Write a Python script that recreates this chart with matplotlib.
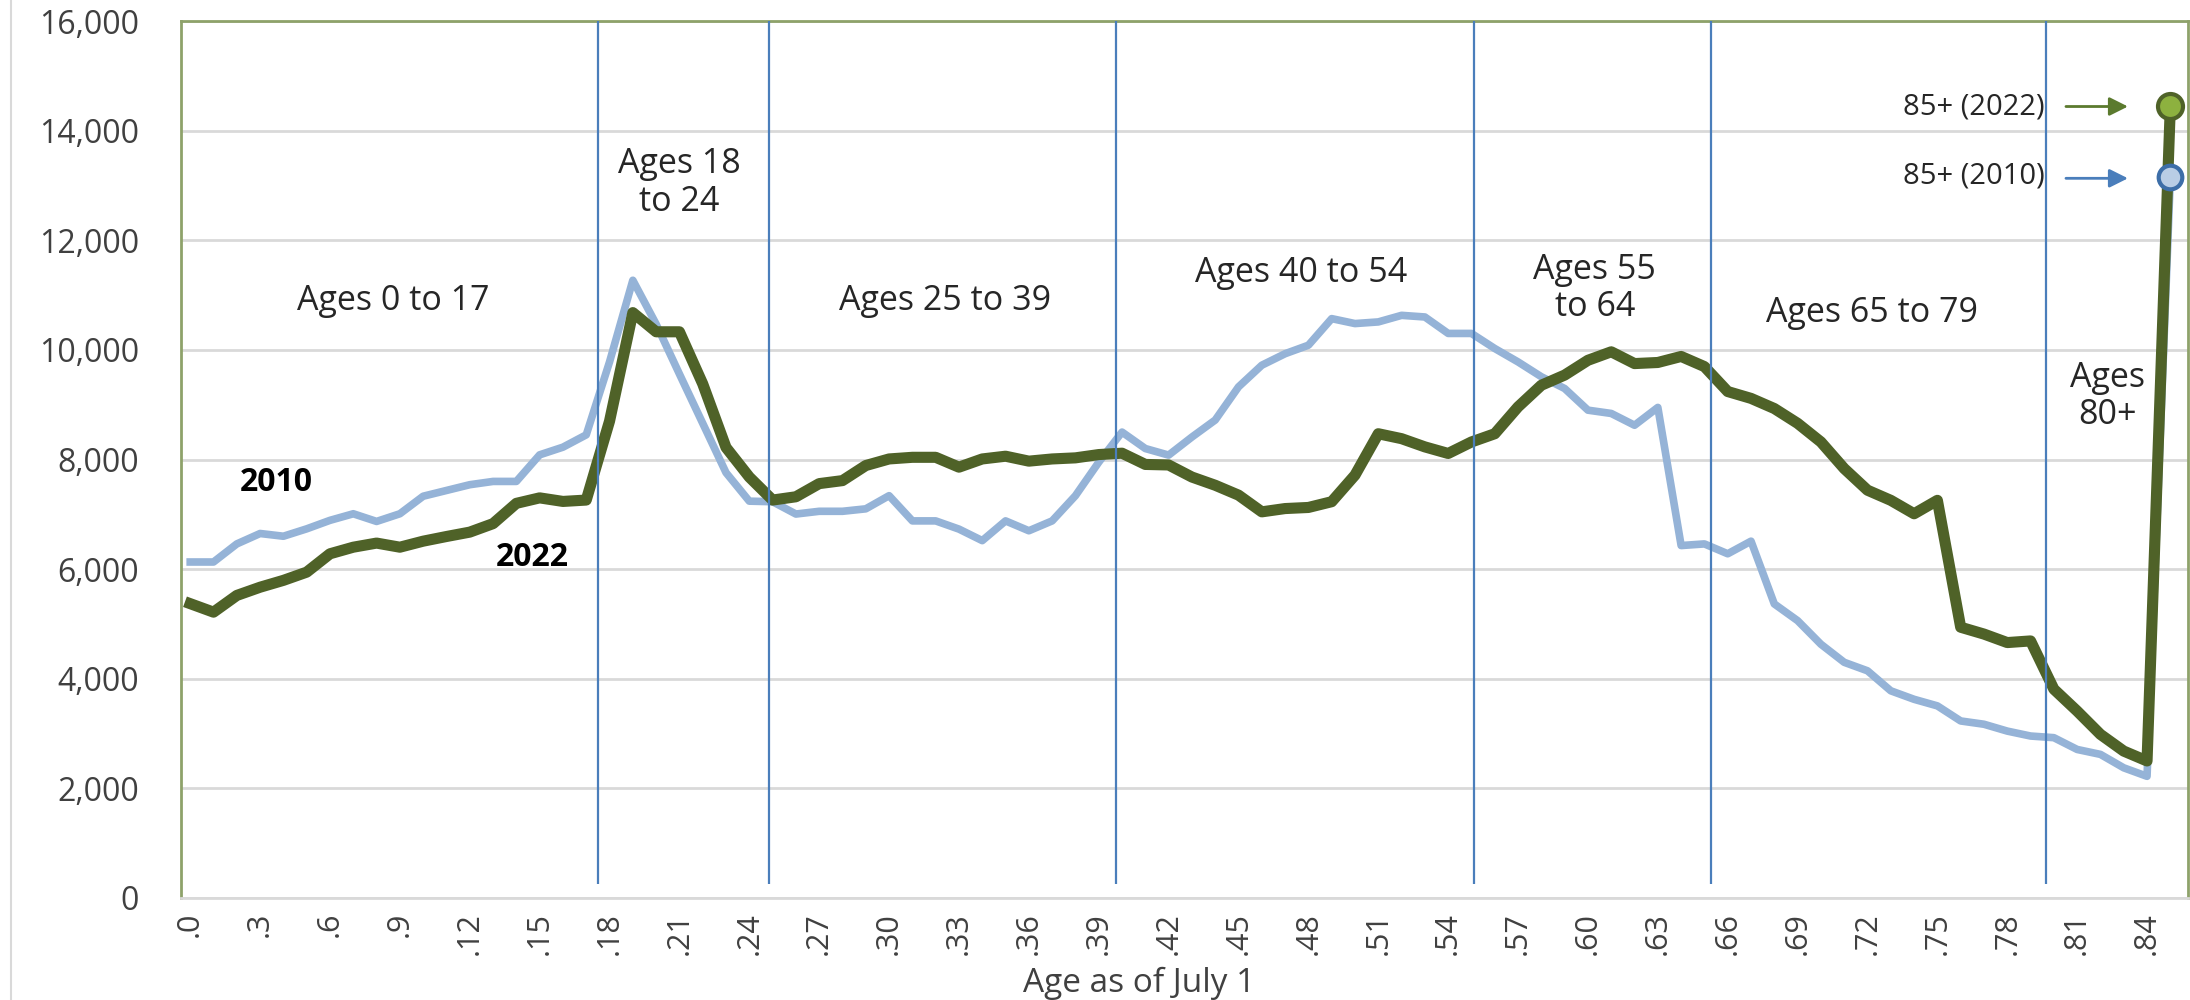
import matplotlib
matplotlib.use("Agg")
import matplotlib.pyplot as plt
from matplotlib.lines import Line2D

plt.rcParams['font.family'] = ['Open Sans', 'DejaVu Sans']

# ------------------------------------------------------------------------------
# data (single years of age 0..84, then 85+)

ages = list(range(0, 86))

pop_2010 = [6130, 6130, 6460, 6650, 6600, 6735, 6890, 7010, 6870, 7010,
            7330, 7435, 7540, 7600, 7600, 8085, 8225, 8450, 9780, 11270,
            10470, 9560, 8660, 7760, 7240, 7230, 7005, 7055, 7055, 7100,
            7340, 6880, 6880, 6730, 6520, 6880, 6700, 6880, 7340, 7950,
            8500, 8200, 8080, 8410, 8720, 9325, 9720, 9930, 10085, 10570,
            10480, 10510, 10630, 10600, 10300, 10300, 10025, 9780, 9510, 9295,
            8900, 8840, 8625, 8950, 6430, 6460, 6280, 6510, 5365, 5060,
            4630, 4300, 4145, 3780, 3625, 3505, 3230, 3170, 3045, 2955,
            2925, 2710, 2620, 2375, 2220, 13150]

pop_2022 = [5370, 5215, 5520, 5670, 5795, 5945, 6280, 6400, 6475, 6400,
            6510, 6595, 6675, 6830, 7200, 7300, 7235, 7260, 8700, 10680,
            10330, 10330, 9380, 8220, 7680, 7260, 7320, 7560, 7615, 7890,
            8010, 8040, 8040, 7860, 8010, 8060, 7970, 8010, 8030, 8090,
            8115, 7910, 7900, 7680, 7530, 7350, 7045, 7105, 7125, 7230,
            7715, 8470, 8380, 8230, 8110, 8320, 8470, 8960, 9355, 9540,
            9810, 9965, 9750, 9770, 9880, 9695, 9240, 9115, 8930, 8660,
            8320, 7835, 7440, 7255, 7010, 7255, 4940, 4815, 4660, 4690,
            3810, 3410, 2985, 2680, 2500, 14450]

tick_ages = [0, 3, 6, 9, 12, 15, 18, 21, 24, 27, 30, 33, 36, 39, 42,
             45, 48, 51, 54, 57, 60, 63, 66, 69, 72, 75, 78, 81, 84]
tick_labels = [".0", ".3", ".6", ".9", ".12", ".15", ".18", ".21", ".24", ".27",
               ".30", ".33", ".36", ".39", ".42", ".45", ".48", ".51", ".54", ".57",
               ".60", ".63", ".66", ".69", ".72", ".75", ".78", ".81", ".84"]

# group boundaries (drawn by hand on the original)
separators = [17.5, 24.85, 39.75, 55.1, 65.3, 79.65]

groups = ["Ages 0 to 17", "Ages 18\nto 24", "Ages 25 to 39", "Ages 40 to 54",
          "Ages 55\nto 64", "Ages 65 to 79", "Ages\n80+"]
group_pos = [(8.7, 10900), (21.0, 13040), (32.4, 10900), (47.7, 11400),
             (60.3, 11120), (72.2, 10670), (82.3, 9150)]

# ------------------------------------------------------------------------------

GREEN = "#4f6228"
BLUE = "#95b3d7"
SEP = "#4a7ebb"
TXT = "#262626"

fig = plt.figure(figsize=(21.9, 10), dpi=100)
ax = fig.add_axes([0.0826, 0.102, 0.9164, 0.877])

ax.plot(ages, pop_2010, color=BLUE, lw=5.5, solid_joinstyle="round", zorder=3)
ax.plot(ages, pop_2022, color=GREEN, lw=8, solid_joinstyle="round", zorder=4)

ax.plot(ages[-1], pop_2022[-1], "o", ms=18, mfc="#8db13f", mec=GREEN, mew=3, zorder=7)
ax.plot(ages[-1], pop_2010[-1], "o", ms=17, mfc="#b9cde5", mec="#3d6ea8", mew=3, zorder=7)

ax.vlines(separators, 250, 16000, color=SEP, lw=1.6, zorder=5)

for txt, (x, y) in zip(groups, group_pos):
  ax.text(x, y, txt, ha="center", va="center", fontsize=24.5, color=TXT,
          linespacing=1.15, zorder=6)

ax.text(3.7, 7585, "2010", ha="center", va="center", fontsize=23,
        fontweight="bold", color="black")
ax.text(14.7, 6217, "2022", ha="center", va="center", fontsize=23,
        fontweight="bold", color="black")

ax.text(79.6, 14440, "85+ (2022)", ha="right", va="center", fontsize=21, color=TXT)
ax.text(79.6, 13170, "85+ (2010)", ha="right", va="center", fontsize=21, color=TXT)
ax.annotate("", xy=(83.3, 14440), xytext=(80.4, 14440),
            arrowprops=dict(arrowstyle="-|>", color="#5b7a2e", lw=2, mutation_scale=28))
ax.annotate("", xy=(83.3, 13130), xytext=(80.4, 13130),
            arrowprops=dict(arrowstyle="-|>", color="#4a7ebb", lw=2, mutation_scale=28))

ax.set_xlim(-0.4, 85.75)
ax.set_ylim(0, 16000)
ax.set_yticks(range(0, 16001, 2000))
ax.set_yticklabels([f"{v:,}" for v in range(0, 16001, 2000)])
ax.set_xticks(tick_ages)
ax.set_xticklabels(tick_labels, rotation=90)

ax.grid(axis="y", color="#d9d9d9", lw=2)
ax.set_axisbelow(True)
ax.tick_params(length=0)
ax.tick_params(axis="y", labelsize=23, pad=30, labelcolor="#404040")
ax.tick_params(axis="x", labelsize=22, pad=10, labelcolor="#404040")

for s in ["top", "left", "right"]:
  ax.spines[s].set_color("#8ea26a")
  ax.spines[s].set_linewidth(2)
ax.spines["bottom"].set_color("#d9d9d9")
ax.spines["bottom"].set_linewidth(2)

fig.text(1139/2190, 1 - 983/1000, "Age as of July 1", ha="center", va="center",
         fontsize=24, color="#404040")

fig.add_artist(Line2D([0.005, 0.005], [0, 1], color="#d9d9d9", lw=1.5))

plt.savefig("out.png", dpi=100)
